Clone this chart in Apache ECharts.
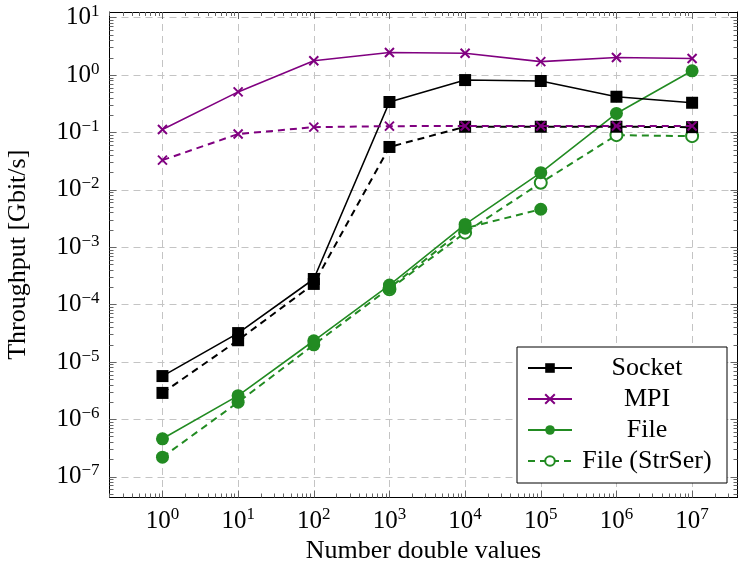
<!DOCTYPE html>
<html>
<head>
<meta charset="utf-8">
<script src="https://cdn.jsdelivr.net/npm/echarts@6/dist/echarts.min.js"></script>
<style>html,body{margin:0;padding:0;background:#fff}#c{width:742px;height:561px}</style>
</head>
<body>
<div id="c"></div>
<script>
// ---- data ----
const xValues = [1, 10, 100, 1e3, 1e4, 1e5, 1e6, 1e7];
const socket = [5.7e-6, 3.2e-5, 2.8e-4, 0.34, 0.82, 0.79, 0.42, 0.33];
const socketDashed = [2.9e-6, 2.4e-5, 2.3e-4, 0.056, 0.126, 0.126, 0.126, 0.124];
const mpi = [0.113, 0.51, 1.78, 2.48, 2.4, 1.72, 2.03, 1.95];
const mpiDashed = [0.033, 0.094, 0.124, 0.129, 0.13, 0.13, 0.13, 0.13];
const file = [4.6e-7, 2.6e-6, 2.35e-5, 2.2e-4, 2.5e-3, 0.020, 0.215, 1.19];
const fileDashed = [2.2e-7, 2.0e-6, 2.0e-5, 1.95e-4, 2.15e-3, 4.6e-3, null, null];
const fileStrSer = [null, null, null, 1.85e-4, 1.8e-3, 0.0133, 0.09, 0.0865];
const xTickExps = [0, 1, 2, 3, 4, 5, 6, 7];
const yTickExps = [-7, -6, -5, -4, -3, -2, -1, 0, 1];
const legendNames = ['Socket', 'MPI', 'File', 'File (StrSer)'];
const xTitle = 'Number double values';
const yTitle = 'Throughput [Gbit/s]';

// ---- layout ----
const xMin = -0.7, xMax = 7.6, yMin = -7.36, yMax = 1.1;
const FONT = 'Liberation Serif';
const BLACK = '#000', PURPLE = '#800080', GREEN = '#228b22';

function minors(lo, hi) {
  const out = [];
  for (let n = Math.floor(lo) - 1; n <= Math.ceil(hi); n++) {
    for (let m = 2; m <= 9; m++) {
      const v = n + Math.log10(m);
      if (v > lo && v < hi) out.push(v);
    }
  }
  return out;
}
const sup = n => String(n).replace('-', '\u2212');
const labelFmt = v => '{b|10}{s|' + sup(Math.round(v)) + '}';
const rich = {
  b: { fontFamily: FONT, fontSize: 25, color: '#000' },
  s: { fontFamily: FONT, fontSize: 17, color: '#000', padding: [0, 0, 12, 0] }
};

function axisSet(kind) {
  const isX = kind === 'x';
  const lo = isX ? xMin : yMin, hi = isX ? xMax : yMax;
  const majors = isX ? xTickExps : yTickExps;
  const mins = minors(lo, hi);
  const posA = isX ? 'bottom' : 'left', posB = isX ? 'top' : 'right';
  const base = { type: 'value', min: lo, max: hi, splitLine: { show: false }, axisLabel: { show: false }, axisLine: { show: false, onZero: false } };
  const tickStyle = { color: '#666', width: 1 };
  return [
    Object.assign({}, base, {
      position: posA,
      axisLine: { show: true, onZero: false, lineStyle: { color: '#000', width: 1 } },
      axisTick: { show: true, inside: true, length: 7, customValues: majors, lineStyle: tickStyle },
      axisLabel: { show: true, customValues: majors, formatter: labelFmt, rich: rich, margin: isX ? 9 : 10 },
      splitLine: { show: true, lineStyle: { color: '#c4c4c4', width: 1, type: [7, 5] } },
      name: isX ? xTitle : yTitle,
      nameLocation: 'middle',
      nameGap: isX ? 39 : 78,
      nameTextStyle: { fontFamily: FONT, fontSize: 26, color: '#000' }
    }),
    Object.assign({}, base, {
      position: posA,
      axisTick: { show: true, inside: true, length: 4, customValues: mins, lineStyle: tickStyle }
    }),
    Object.assign({}, base, {
      position: posB,
      axisLine: { show: true, onZero: false, lineStyle: { color: '#000', width: 1 } },
      axisTick: { show: true, inside: true, length: 7, customValues: majors, lineStyle: tickStyle }
    }),
    Object.assign({}, base, {
      position: posB,
      axisTick: { show: true, inside: true, length: 4, customValues: mins, lineStyle: tickStyle }
    })
  ];
}

const toPts = arr => xValues.map((x, i) => arr[i] == null ? null : [Math.log10(x), Math.log10(arr[i])]).filter(p => p);

const crossPath = 'path://M0,0L10,10M10,0L0,10';
function mk(name, data, color, symbol, size, dashed, empty, z) {
  return {
    name: name, type: 'line', xAxisIndex: 0, yAxisIndex: 0, data: toPts(data),
    symbol: symbol, symbolSize: size, showSymbol: true, z: z,
    lineStyle: { color: color, width: dashed ? 2 : 1.6, type: dashed ? [7, 5] : 'solid' },
    itemStyle: symbol === crossPath
      ? { color: color, borderColor: color, borderWidth: 2 }
      : (empty ? { color: '#fff', borderColor: color, borderWidth: 2 } : { color: color, borderColor: color, borderWidth: 0 }),
    emphasis: { disabled: true },
    animation: false
  };
}

const series = [
  mk('File (StrSer)', fileStrSer, GREEN, 'circle', 12, true, true, 2),
  mk('File dashed', fileDashed, GREEN, 'circle', 13, true, false, 3),
  mk('File', file, GREEN, 'circle', 13, false, false, 4),
  mk('Socket dashed', socketDashed, BLACK, 'rect', 12, true, false, 5),
  mk('Socket', socket, BLACK, 'rect', 12, false, false, 6),
  mk('MPI dashed', mpiDashed, PURPLE, crossPath, 9, true, false, 7),
  mk('MPI', mpi, PURPLE, crossPath, 9, false, false, 8)
];

const chart = echarts.init(document.getElementById('c'), null, { renderer: 'canvas' });
chart.setOption({
  backgroundColor: '#fff',
  animation: false,
  grid: { left: 109.5, right: 4.5, top: 12, bottom: 63.5, containLabel: false, outerBoundsMode: 'none' },
  xAxis: axisSet('x'),
  yAxis: axisSet('y'),
  legend: {
    data: legendNames,
    orient: 'vertical',
    left: 517, top: 347,
    itemWidth: 44, itemHeight: 12, itemGap: 5,
    padding: [8, 10, 9, 10],
    borderColor: '#000', borderWidth: 1, backgroundColor: '#fff',
    selectedMode: false,
    formatter: n => '{c|' + n + '}',
    textStyle: { rich: { c: { fontFamily: FONT, fontSize: 26, color: '#000', width: 140, align: 'center', lineHeight: 22 } } }
  },
  series: series
});
</script>
</body>
</html>
